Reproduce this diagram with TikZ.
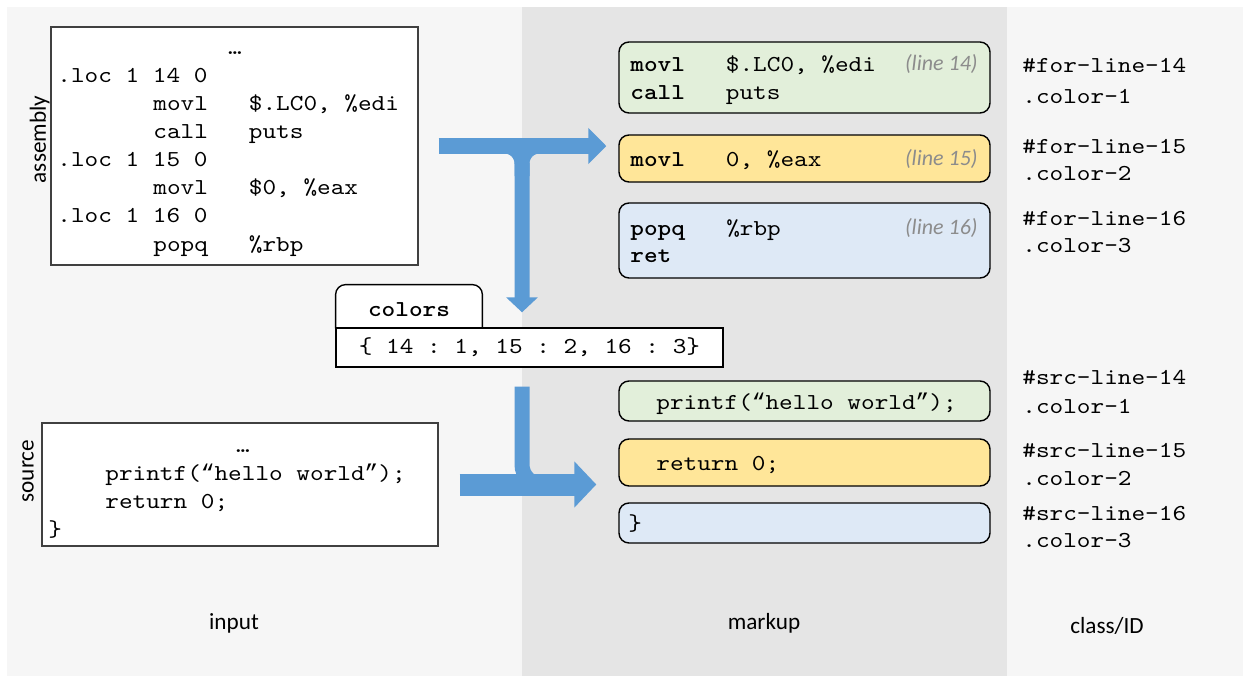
\documentclass[tikz,border=0pt]{standalone}
\usepackage{fontspec}
\setmainfont{Carlito}
\setmonofont{lmmono10-regular.otf}[BoldFont=lmmonolt10-bold.otf, FakeStretch=1.14]
\newfontfamily\quotefont{Liberation Mono}
\newcommand\openq{{\quotefont “}}
\newcommand\closeq{{\quotefont ”}}
\usetikzlibrary{arrows.meta,positioning,calc}

\definecolor{panellight}{HTML}{F6F6F6}
\definecolor{panelmid}{HTML}{E5E5E5}
\definecolor{flowblue}{HTML}{5B9BD5}
\definecolor{hlgreen}{HTML}{E2EFDA}
\definecolor{hlyellow}{HTML}{FFE699}
\definecolor{hlblue}{HTML}{DEE9F6}
\definecolor{notegray}{HTML}{8C8C8C}

\begin{document}
\begin{tikzpicture}[x=0.5pt, y=-0.5pt]
\tikzstyle{codeline} = [font=\ttfamily\fontsize{11.4}{14}\selectfont, inner sep=0pt, anchor=base west]
\tikzstyle{plainbox} = [rectangle, draw=black!75, line width=0.6pt, fill=white, inner sep=0pt]
\tikzstyle{hlbox} = [rectangle, draw, line width=0.7pt, rounded corners=5pt, minimum width=185.5pt, inner sep=0pt]
\tikzstyle{note} = [font=\itshape\fontsize{11}{12}\selectfont, text=notegray, inner sep=0pt, anchor=base east]
\tikzstyle{caption} = [font=\fontsize{11.6}{14}\selectfont, inner sep=0pt, anchor=base]
\tikzstyle{flow} = [draw=flowblue, line width=8pt, -{Triangle[width=17.5pt, length=9pt]}]
\tikzstyle{stem} = [draw=flowblue, line width=7.5pt]

\fill[white] (0,0) rectangle (1250,681);
\useasboundingbox (0,0) rectangle (1250,681);

% Panels
\fill[panellight] (7,7) rectangle (522,676);
\fill[panelmid] (522,7) rectangle (1007,676);
\fill[panellight] (1007,7) rectangle (1243,676);

\node[caption] (inputlabel) at (234,629) {input};
\node[caption] (markuplabel) at (764,629) {markup};
\node[caption] (classlabel) at (1107,633) {class/ID};

% Input boxes
\node[plainbox, minimum width=183.5pt, minimum height=119pt] (asm) at (234.5,146) {};
\node[caption, rotate=90] (asmlabel) at (46,139.5) {assembly};
\node[codeline, anchor=base] (asmdots) at (235,54) {…};
\foreach \x/\y/\txt [count=\i] in {57/82/{.loc 1 14 0}, 153/110/{movl~~~\$.LC0, \%edi},
    153/138/{call~~~puts}, 57/166/{.loc 1 15 0}, 153/194/{movl~~~\$0, \%eax},
    57/222/{.loc 1 16 0}, 153/251/{popq~~~\%rbp}}
  \node[codeline] (asm\i) at (\x,\y) {\txt};

\node[plainbox, minimum width=198pt, minimum height=61.5pt] (src) at (240,484.5) {};
\node[caption, rotate=90] (srclabel) at (33.5,471) {source};
\node[codeline, anchor=base] (srcdots) at (243,452) {…};
\node[codeline] (src1) at (105,480) {printf(\openq hello world\closeq);};
\node[codeline] (src2) at (105,508) {return 0;};
\node[codeline] (src3) at (48,536) {\}};

% Color table
\node[minimum width=73pt, minimum height=21.5pt, inner sep=0pt] (colortab) at (409,306.5) {};
\draw[fill=white, line width=0.7pt, rounded corners=5pt] (colortab.south west) -- (colortab.north west)
    -- (colortab.north east) -- (colortab.south east);
\node[codeline, anchor=base, font=\ttfamily\bfseries\fontsize{11.4}{14}\selectfont] (colorname) at (409,316) {colors};
\node[plainbox, draw=black, line width=0.7pt, minimum width=193.5pt, minimum height=19.5pt] (colorval) at (529.5,347.5) {};
\node[codeline, anchor=base] (colormap) at (529.5,353) {\{ 14 : 1, 15 : 2, 16 : 3\}};

% Markup blocks
\node[hlbox, fill=hlgreen, minimum height=35.5pt] (mk14) at (804.5,77.5) {};
\node[hlbox, fill=hlyellow, minimum height=23.5pt] (mk15) at (804.5,158.5) {};
\node[hlbox, fill=hlblue, minimum height=37.5pt] (mk16) at (804.5,240.5) {};
\node[codeline] (mk14a) at (630,71) {\textbf{movl}~~~\$.LC0, \%edi};
\node[codeline] (mk14b) at (630,99) {\textbf{call}~~~puts};
\node[codeline] (mk15a) at (630,166) {\textbf{movl}~~~0, \%eax};
\node[codeline] (mk16a) at (630,235) {\textbf{popq}~~~\%rbp};
\node[codeline] (mk16b) at (630,262) {\textbf{ret}};
\node[note] (note14) at (978,70) {(line 14)};
\node[note] (note15) at (978,165) {(line 15)};
\node[note] (note16) at (978,234) {(line 16)};

\node[hlbox, fill=hlgreen, minimum height=20pt] (ms14) at (804.5,401) {};
\node[hlbox, fill=hlyellow, minimum height=23.5pt] (ms15) at (804.5,462.5) {};
\node[hlbox, fill=hlblue, minimum height=20pt] (ms16) at (804.5,523) {};
\node[codeline] (ms14a) at (656,409) {printf(\openq hello world\closeq);};
\node[codeline] (ms15a) at (656,470) {return 0;};
\node[codeline] (ms16a) at (628,530) {\}};

% Class and ID names
\foreach \y/\txt [count=\i] in {72/{\#for-line-14}, 103/{.color-1}, 153/{\#for-line-15}, 180/{.color-2},
    225/{\#for-line-16}, 252/{.color-3}, 384/{\#src-line-14}, 413/{.color-1},
    457/{\#src-line-15}, 485/{.color-2}, 520/{\#src-line-16}, 547/{.color-3}}
  \node[codeline] (cls\i) at (1022,\y) {\txt};

% Connections
\coordinate (split) at (522,146);
\draw[stem, rounded corners=8.75pt, shorten >=7.5pt, -{Triangle[width=15.5pt, length=7.5pt]}]
    ([xshift=-15pt]split) -| (split |- colorval.north);
\draw[stem, rounded corners=8.75pt] ([xshift=15pt]split) -| ([yshift=-15pt]split);
\draw[flow, shorten <=10pt, shorten >=6pt] (asm.east) -- (asm.east -| mk15.west);

\draw[stem, rounded corners=10pt, shorten <=9.5pt] (split |- colorval.south) |- ([xshift=25pt]split |- src.east);
\draw[flow, line width=11pt, -{Triangle[width=22.5pt, length=11pt]}, shorten <=10.5pt, shorten >=11pt]
    (src.east) -- (src.east -| ms15.west);

\end{tikzpicture}
\end{document}
